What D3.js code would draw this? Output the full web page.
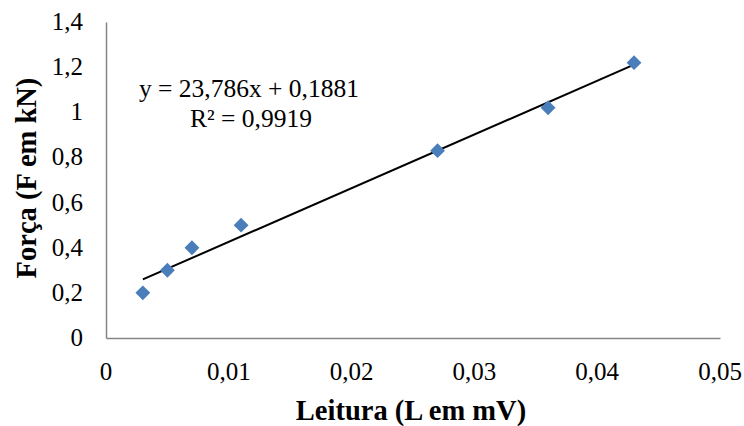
<!DOCTYPE html>
<html><head><meta charset="utf-8">
<script src="https://cdn.jsdelivr.net/npm/d3@7"></script>
<style>body{margin:0;background:#fff}</style>
</head><body>
<svg id="c" width="744" height="426"></svg>
<script>
const leitura = [0.003, 0.005, 0.007, 0.011, 0.027, 0.036, 0.043];
const forca = [0.2, 0.3, 0.4, 0.5, 0.83, 1.02, 1.22];
const xTicks = [0, 0.01, 0.02, 0.03, 0.04, 0.05];
const yTicks = [0, 0.2, 0.4, 0.6, 0.8, 1, 1.2, 1.4];
const slope = 23.786, intercept = 0.1881;
const eqLines = ["y = 23,786x + 0,1881", "R² = 0,9919"];
const xTitle = "Leitura (L em mV)";
const yTitle = "Força (F em kN)";

const svg = d3.select("#c");
const x = d3.scaleLinear().domain([0, 0.05]).range([106, 720]);
const y = d3.scaleLinear().domain([0, 1.4]).range([338, 22]);
const fmt = d => String(+d.toFixed(2)).replace(".", ",");

function txt(parent, s, size, bold) {
  return parent.append("text")
    .style("font-family", '"Times New Roman", Tinos, "Liberation Serif", FreeSerif')
    .attr("font-size", size)
    .attr("font-weight", bold ? "bold" : null).attr("fill", "#000").text(s);
}

const gx = svg.append("g").attr("transform", "translate(0,338)")
  .call(d3.axisBottom(x).tickValues(xTicks).tickSize(0).tickFormat(""));
const gy = svg.append("g").attr("transform", "translate(106,0)")
  .call(d3.axisLeft(y).tickValues(yTicks).tickSize(0).tickFormat(""));
[gx, gy].forEach(g => {
  g.select(".domain").attr("stroke", "#868686").attr("stroke-width", 1.5);
  g.selectAll(".tick").remove();
});
xTicks.forEach(v => txt(svg, fmt(v), 25).attr("x", x(v)).attr("y", 380).attr("text-anchor", "middle"));
yTicks.forEach(v => txt(svg, fmt(v), 25).attr("x", 83).attr("y", y(v) + 8).attr("text-anchor", "end"));

const xs = d3.extent(leitura);
svg.append("line")
  .attr("x1", x(xs[0])).attr("y1", y(slope * xs[0] + intercept))
  .attr("x2", x(xs[1])).attr("y2", y(slope * xs[1] + intercept))
  .attr("stroke", "#000").attr("stroke-width", 2);

svg.selectAll("path.pt").data(leitura).enter().append("path")
  .attr("class", "pt")
  .attr("d", d3.symbol().type(d3.symbolSquare).size(110))
  .attr("transform", (d, i) => `translate(${x(d)},${y(forca[i])}) rotate(45)`)
  .attr("fill", "#4a7ebb");

txt(svg, eqLines[0], 25.5).attr("x", 249).attr("y", 97).attr("text-anchor", "middle");
txt(svg, eqLines[1], 25.5).attr("x", 251).attr("y", 127).attr("text-anchor", "middle");

txt(svg, xTitle, 28.5, true).attr("x", 411).attr("y", 420).attr("text-anchor", "middle");
txt(svg, yTitle, 28.5, true).attr("transform", "translate(36,178) rotate(-90)").attr("text-anchor", "middle");
</script>
</body></html>
